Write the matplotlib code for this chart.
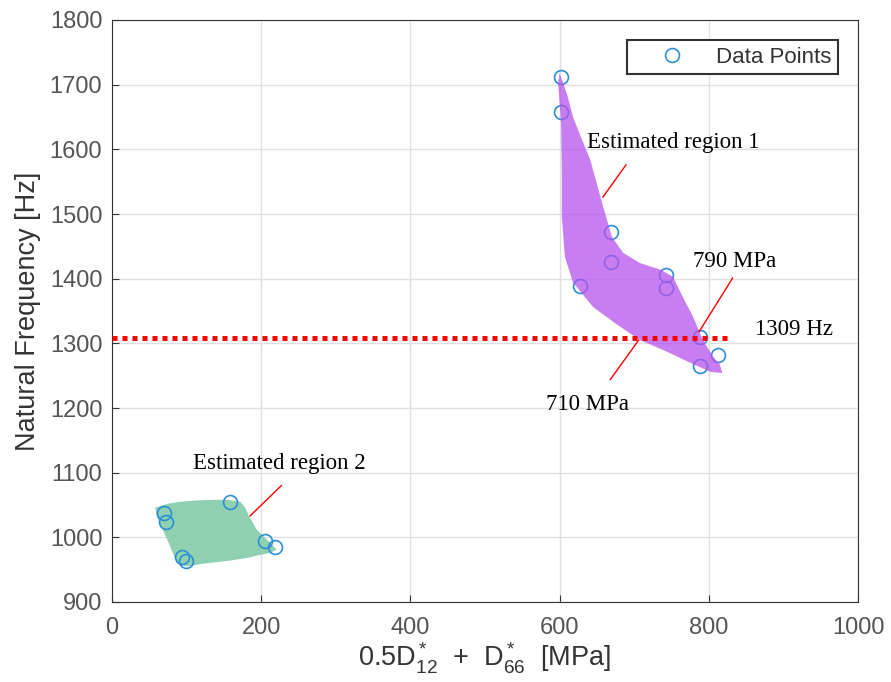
import matplotlib
matplotlib.use('Agg')
import matplotlib.pyplot as plt

plt.rcParams['font.family'] = ['Liberation Sans', 'DejaVu Sans']
plt.rcParams['mathtext.fontset'] = 'custom'
plt.rcParams['mathtext.rm'] = 'Liberation Sans'
plt.rcParams['mathtext.it'] = 'Liberation Sans'

# data points
stiffness = [602, 602, 669, 669, 627, 743, 743, 788, 788, 812,
             70, 72, 94, 99, 158, 205, 218]
frequency = [1712, 1658, 1472, 1426, 1389, 1406, 1386, 1310, 1265, 1282,
             1037, 1024, 969, 963, 1054, 995, 985]

# estimated region outlines
region1_x = [600, 610, 618, 630, 641, 657, 670, 685, 708, 735, 752, 765, 779, 792, 806, 815, 818,
             802, 775, 744, 708, 677, 645, 618, 607, 603, 603, 602, 598]
region1_y = [1718, 1685, 1650, 1615, 1584, 1517, 1465, 1440, 1424, 1414, 1403, 1372, 1341, 1305, 1279, 1267, 1254,
             1256, 1270, 1287, 1305, 1329, 1356, 1394, 1434, 1496, 1560, 1640, 1703]
region2_x = [58, 75, 91, 113, 135, 155, 172, 178, 184, 194, 208, 221, 212, 195, 181, 158, 135, 115, 101, 92, 85, 78, 68, 60]
region2_y = [1046, 1052, 1055, 1057, 1058, 1058, 1055, 1047, 1032, 1012, 996, 981, 976, 972, 968, 964, 961, 958, 955, 957, 966, 986, 1012, 1032]

threshold = 1309
threshold_x = [0, 830]

fig = plt.figure(figsize=(8.91, 6.82), dpi=100)
ax = fig.add_axes([112/891, 1 - 602/682, 746/891, 582/682])

ax.fill(region2_x, region2_y, color='#8fd0b0', lw=0, zorder=2)
ax.plot(stiffness, frequency, 'o', mfc='none', mec='#2a8fd6', ms=10, mew=1.2,
        label='Data Points', zorder=3)
ax.fill(region1_x, region1_y, color='#b652eb', alpha=0.75, lw=0, zorder=4)

ax.plot(threshold_x, [threshold, threshold], color='red', lw=3.6,
        linestyle=(0, (1, 1)), zorder=5)

serif = ['Liberation Serif', 'DejaVu Serif']
fs = 16.5
ax.text(637, 1610, 'Estimated region 1', family=serif, fontsize=fs, va='center')
ax.plot([689, 658], [1576, 1526], color='red', lw=1, zorder=5)
ax.text(779, 1426, '790 MPa', family=serif, fontsize=fs, va='center')
ax.plot([832, 787], [1401, 1318], color='red', lw=1, zorder=5)
ax.text(862, 1321, '1309 Hz', family=serif, fontsize=fs, va='center')
ax.text(582, 1205, '710 MPa', family=serif, fontsize=fs, va='center')
ax.plot([706, 668], [1305, 1244], color='red', lw=1, zorder=5)
ax.text(109, 1114, 'Estimated region 2', family=serif, fontsize=fs, va='center')
ax.plot([227, 185], [1080, 1033], color='red', lw=1, zorder=5)

ax.set_xlim(0, 1000)
ax.set_ylim(900, 1800)
ax.set_xticks(range(0, 1001, 200))
ax.set_yticks(range(900, 1801, 100))
ax.grid(True, color='#e0e0e0', lw=1)
ax.set_axisbelow(True)
ax.tick_params(labelsize=17, labelcolor='#555555', color='#333333', direction='in', length=5)
ax.tick_params(axis='x', pad=11)
ax.tick_params(axis='y', pad=7)
for s in ax.spines.values():
    s.set_color('#333333')
ax.set_xlabel(r'0.5D$^*_{12}$  +  D$^*_{66}$  [MPa]', fontsize=19.5, color='#333333', labelpad=1)
ax.set_ylabel('Natural Frequency [Hz]', fontsize=19.5, color='#333333', labelpad=6)

leg = ax.legend(loc='upper right', bbox_to_anchor=(1 - 20/746, 1 - 20/582), borderaxespad=0,
                fontsize=16, fancybox=False, framealpha=1, edgecolor='#333333',
                handlelength=3.4, handletextpad=0.3, borderpad=0.3)
leg.get_frame().set_linewidth(1.5)
for t in leg.get_texts():
    t.set_color('#333333')

fig.savefig('out.png', dpi=100)
